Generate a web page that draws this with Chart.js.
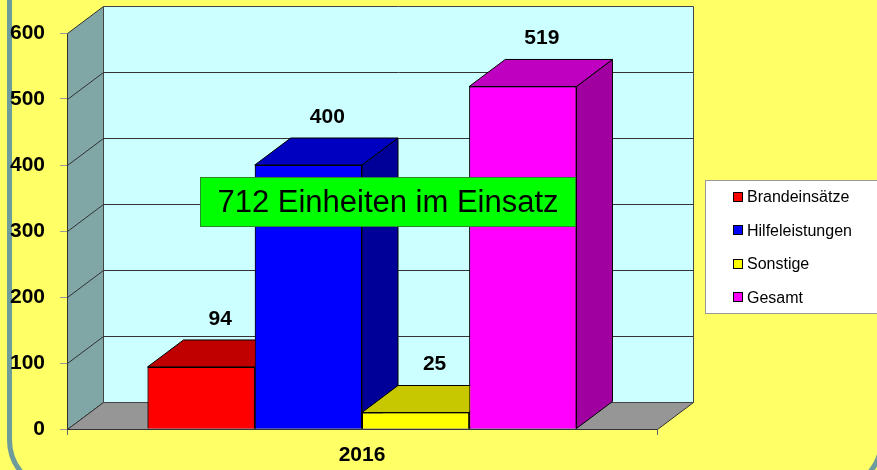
<!DOCTYPE html>
<html>
<head>
<meta charset="utf-8">
<script src="https://cdn.jsdelivr.net/npm/chart.js@4.4.0/dist/chart.umd.min.js"></script>
<style>
  html, body { margin: 0; padding: 0; background: #ffff66; }
  #wrap { width: 877px; height: 470px; }
</style>
</head>
<body>
<div id="wrap"><canvas id="chart" width="877" height="470"></canvas></div>
<script>
// data
const categories = ['2016'];
const seriesNames = ['Brandeinsätze', 'Hilfeleistungen', 'Sonstige', 'Gesamt'];
const seriesValues = [94, 400, 25, 519];
const yMax = 600;
const yStep = 100;
const noteText = '712 Einheiten im Einsatz';

// colours for front / top / side of each bar
const frontColors = ['#ff0000', '#0000ff', '#ffff00', '#ff00ff'];
const topColors = ['#c00000', '#0000c0', '#c8c800', '#c000c0'];
const sideColors = ['#a00000', '#000099', '#a0a000', '#a000a0'];

const FONT = 'Arial, "Liberation Sans", sans-serif';
const DX = 36, DY = 27; // depth of the 3d box

function poly(ctx, pts, fill, stroke) {
    ctx.beginPath();
    ctx.moveTo(pts[0][0], pts[0][1]);
    for (let k = 1; k < pts.length; k++) ctx.lineTo(pts[k][0], pts[k][1]);
    ctx.closePath();
    if (fill) { ctx.fillStyle = fill; ctx.fill(); }
    if (stroke) { ctx.strokeStyle = stroke; ctx.lineWidth = 1; ctx.stroke(); }
}

// yellow background + rounded frame
const framePlugin = {
    id: 'frame',
    beforeDraw(chart) {
        const ctx = chart.ctx;
        ctx.save();
        ctx.fillStyle = '#ffff66';
        ctx.fillRect(0, 0, chart.width, chart.height);
        ctx.beginPath();
        ctx.roundRect(9.5, -80, 872, 570, 50);
        ctx.strokeStyle = '#6e9b9b';
        ctx.lineWidth = 5;
        ctx.stroke();
        ctx.restore();
    }
};

// walls, floor and gridlines
const wallsPlugin = {
    id: 'walls',
    beforeDatasetsDraw(chart) {
        const ctx = chart.ctx;
        const a = chart.chartArea;
        const y = chart.scales.y;
        const L = Math.round(a.left) + 0.5, R = Math.round(a.right) + 0.5;
        const T = Math.round(a.top) + 0.5, B = Math.round(a.bottom) + 0.5;
        ctx.save();
        poly(ctx, [[L, B], [L, T], [L + DX, T - DY], [L + DX, B - DY]], '#80a6a6', '#333');
        poly(ctx, [[L, B], [R, B], [R + DX, B - DY], [L + DX, B - DY]], '#969696', '#333');
        poly(ctx, [[L + DX, T - DY], [R + DX, T - DY], [R + DX, B - DY], [L + DX, B - DY]], '#ccffff', '#444');
        ctx.strokeStyle = '#333';
        ctx.lineWidth = 1;
        y.ticks.forEach(t => {
            if (t.value === 0 || t.value === yMax) return;
            const py = Math.round(y.getPixelForValue(t.value)) + 0.5;
            ctx.beginPath();
            ctx.moveTo(L, py);
            ctx.lineTo(L + DX, py - DY);
            ctx.lineTo(R + DX, py - DY);
            ctx.stroke();
        });
        ctx.restore();
    }
};

// repaint bars left to right: front (library element), side, top
const bars3dPlugin = {
    id: 'bars3d',
    afterDatasetsDraw(chart) {
        const ctx = chart.ctx;
        ctx.save();
        chart.data.datasets.forEach((ds, i) => {
            chart.getDatasetMeta(i).data.forEach(bar => {
                bar.draw(ctx);
                const p = bar.getProps(['x', 'y', 'base', 'width'], true);
                const l = p.x - p.width / 2, r = p.x + p.width / 2;
                poly(ctx, [[r, p.y], [r + DX, p.y - DY], [r + DX, p.base - DY], [r, p.base]], sideColors[i], '#000');
                poly(ctx, [[l, p.y], [r, p.y], [r + DX, p.y - DY], [l + DX, p.y - DY]], topColors[i], '#000');
            });
        });
        ctx.restore();
    }
};

// value labels, note box and legend
const overlayPlugin = {
    id: 'overlay',
    afterDraw(chart) {
        const ctx = chart.ctx;
        ctx.save();
        ctx.fillStyle = '#000';
        ctx.font = 'bold 21px ' + FONT;
        ctx.textAlign = 'center';
        ctx.textBaseline = 'middle';
        chart.data.datasets.forEach((ds, i) => {
            chart.getDatasetMeta(i).data.forEach((bar, j) => {
                ctx.fillText(String(ds.data[j]), bar.x + DX / 2 + 1, bar.y - DY - 21);
            });
        });

        // note box
        ctx.fillStyle = '#00ff00';
        ctx.fillRect(200, 177, 375, 49);
        ctx.strokeStyle = '#2a8a2a';
        ctx.lineWidth = 1;
        ctx.strokeRect(200.5, 177.5, 375, 49);
        ctx.fillStyle = '#000';
        ctx.font = '31px ' + FONT;
        ctx.fillText(noteText, 388, 203);

        // legend
        ctx.fillStyle = '#fff';
        ctx.fillRect(705, 180, 180, 133);
        ctx.strokeStyle = '#999';
        ctx.strokeRect(705.5, 180.5, 180, 133);
        ctx.font = '16px ' + FONT;
        ctx.textAlign = 'left';
        chart.data.datasets.forEach((ds, i) => {
            const cy = 196.5 + i * 33.6;
            ctx.fillStyle = ds.backgroundColor;
            ctx.fillRect(733, Math.round(cy - 5), 10, 10);
            ctx.strokeStyle = '#000';
            ctx.strokeRect(733.5, Math.round(cy - 5) + 0.5, 9, 9);
            ctx.fillStyle = '#000';
            ctx.fillText(ds.label, 747, cy + 1);
        });
        ctx.restore();
    }
};

new Chart(document.getElementById('chart'), {
    type: 'bar',
    data: {
        labels: categories,
        datasets: seriesNames.map((name, i) => ({
            label: name,
            data: [seriesValues[i]],
            backgroundColor: frontColors[i],
            borderColor: '#000',
            borderWidth: 1
        }))
    },
    options: {
        responsive: false,
        animation: false,
        devicePixelRatio: 1,
        layout: { padding: { top: 33, right: 220, bottom: 0, left: 0 } },
        datasets: { bar: { barPercentage: 1, categoryPercentage: 0.727 } },
        plugins: {
            legend: { display: false },
            tooltip: { enabled: false }
        },
        scales: {
            x: {
                grid: { drawOnChartArea: false, drawTicks: true, tickLength: 6, color: '#666' },
                border: { display: false },
                ticks: { color: '#000', font: { family: FONT, size: 21, weight: 'bold' }, padding: 8 },
                afterFit(s) { s.height = 41; }
            },
            y: {
                min: 0,
                max: yMax,
                ticks: { stepSize: yStep, color: '#000', font: { family: FONT, size: 21, weight: 'bold' }, padding: 15 },
                grid: { drawOnChartArea: false, drawTicks: true, tickLength: 7, color: '#999' },
                border: { display: false },
                afterFit(s) { s.width = 67; }
            }
        }
    },
    plugins: [framePlugin, wallsPlugin, bars3dPlugin, overlayPlugin]
});
</script>
</body>
</html>
